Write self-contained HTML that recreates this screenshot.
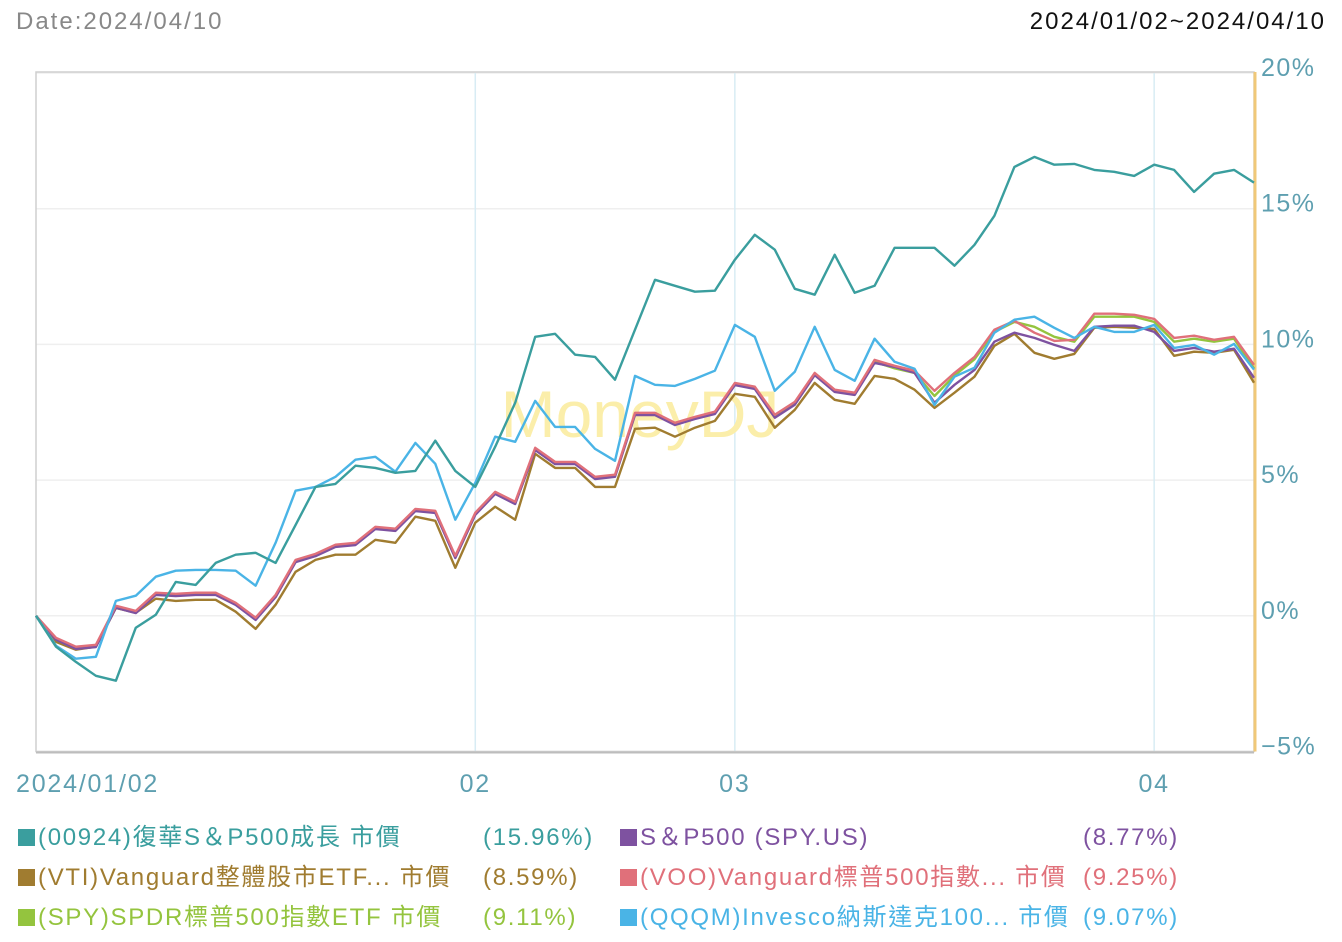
<!DOCTYPE html>
<html><head><meta charset="utf-8"><style>
body{margin:0;width:1342px;height:942px;background:#fff;overflow:hidden;font-family:"Liberation Sans","Noto Sans CJK TC",sans-serif;}
.hdr{position:absolute;top:8px;font-size:24px;letter-spacing:2px;}
.leg{position:absolute;font-size:24px;white-space:nowrap;line-height:28px;letter-spacing:1.7px;}
.sq{display:inline-block;width:17px;height:17px;margin-right:3px;vertical-align:-1px;}
.val{position:absolute;font-size:24px;line-height:28px;letter-spacing:1.7px;}
</style></head><body>
<div class="hdr" style="left:16px;color:#888;">Date:2024/04/10</div>
<div class="hdr" style="right:16px;color:#111;">2024/01/02~2024/04/10</div>
<svg id="chart" width="1342" height="820" style="position:absolute;left:0;top:0"></svg>

<div class="leg" style="left:18px;top:824px;color:#3a9e9e"><span class="sq" style="background:#3a9e9e"></span>(00924)復華S＆P500成長 市價</div>
<div class="val" style="left:483px;top:824px;color:#3a9e9e">(15.96%)</div>
<div class="leg" style="left:18px;top:864px;color:#a07c30"><span class="sq" style="background:#a07c30"></span>(VTI)Vanguard整體股市ETF... 市價</div>
<div class="val" style="left:483px;top:864px;color:#a07c30">(8.59%)</div>
<div class="leg" style="left:18px;top:904px;color:#94c43e"><span class="sq" style="background:#94c43e"></span>(SPY)SPDR標普500指數ETF 市價</div>
<div class="val" style="left:483px;top:904px;color:#94c43e">(9.11%)</div>
<div class="leg" style="left:620px;top:824px;color:#7e52a0"><span class="sq" style="background:#7e52a0"></span>S＆P500 (SPY.US)</div>
<div class="val" style="left:1083px;top:824px;color:#7e52a0">(8.77%)</div>
<div class="leg" style="left:620px;top:864px;color:#e0707a"><span class="sq" style="background:#e0707a"></span>(VOO)Vanguard標普500指數... 市價</div>
<div class="val" style="left:1083px;top:864px;color:#e0707a">(9.25%)</div>
<div class="leg" style="left:620px;top:904px;color:#4ab4e6"><span class="sq" style="background:#4ab4e6"></span>(QQQM)Invesco納斯達克100... 市價</div>
<div class="val" style="left:1083px;top:904px;color:#4ab4e6">(9.07%)</div>

<script>
const yTicks=[-5,0,5,10,15,20];
const xTickLabels=["2024/01/02","02","03","04"];
const xTickIndex=[0,22,35,56];
const nPoints=62;
const teal=[0,-1.14,-1.70,-2.21,-2.39,-0.44,0.04,1.25,1.14,1.95,2.25,2.32,1.95,3.35,4.75,4.86,5.53,5.45,5.27,5.34,6.45,5.34,4.75,6.23,7.85,10.28,10.39,9.62,9.54,8.70,10.54,12.38,12.16,11.94,11.98,13.12,14.04,13.49,12.05,11.83,13.30,11.90,12.16,13.56,13.56,13.56,12.90,13.67,14.74,16.54,16.91,16.62,16.65,16.43,16.36,16.21,16.62,16.43,15.62,16.29,16.43,15.96];
const qqqm=[0,-1.1,-1.58,-1.51,0.55,0.74,1.44,1.66,1.69,1.69,1.66,1.11,2.69,4.61,4.75,5.12,5.75,5.86,5.31,6.37,5.60,3.54,4.90,6.60,6.41,7.92,6.96,6.96,6.15,5.71,8.84,8.51,8.47,8.73,9.03,10.72,10.28,8.29,8.99,10.65,9.06,8.66,10.21,9.36,9.10,7.77,8.81,9.14,10.43,10.91,11.02,10.61,10.24,10.65,10.46,10.46,10.72,9.87,9.98,9.62,10.02,9.07];
const voo=[0,-0.81,-1.14,-1.07,0.37,0.18,0.85,0.81,0.85,0.85,0.48,-0.07,0.77,2.06,2.28,2.62,2.69,3.28,3.21,3.94,3.87,2.21,3.80,4.57,4.20,6.19,5.67,5.67,5.12,5.20,7.48,7.48,7.11,7.33,7.52,8.58,8.44,7.41,7.88,8.95,8.33,8.22,9.43,9.21,9.03,8.29,8.95,9.54,10.54,10.87,10.43,10.13,10.17,11.13,11.13,11.09,10.94,10.24,10.32,10.17,10.28,9.25];
const spy=[0,-0.85,-1.19,-1.12,0.32,0.13,0.80,0.76,0.80,0.80,0.43,-0.12,0.72,2.01,2.23,2.57,2.64,3.23,3.16,3.89,3.82,2.16,3.75,4.52,4.15,6.14,5.62,5.62,5.07,5.15,7.43,7.43,7.06,7.28,7.47,8.53,8.39,7.36,7.80,8.88,8.26,8.15,9.36,9.12,8.95,8.10,8.85,9.45,10.46,10.83,10.65,10.28,10.10,11.02,11.02,11.02,10.83,10.10,10.21,10.10,10.21,9.11];
const sp500=[0,-0.88,-1.22,-1.15,0.30,0.10,0.77,0.73,0.77,0.77,0.40,-0.15,0.69,1.98,2.20,2.54,2.61,3.20,3.13,3.86,3.79,2.13,3.72,4.49,4.12,6.11,5.59,5.59,5.04,5.12,7.40,7.40,7.03,7.25,7.44,8.50,8.36,7.30,7.78,8.87,8.25,8.14,9.32,9.17,8.95,7.85,8.51,9.06,10.10,10.43,10.24,9.98,9.76,10.65,10.69,10.69,10.46,9.76,9.87,9.73,9.84,8.77];
const vti=[0,-0.96,-1.25,-1.14,0.29,0.11,0.63,0.55,0.59,0.59,0.15,-0.48,0.41,1.62,2.06,2.25,2.25,2.80,2.69,3.65,3.50,1.77,3.43,4.02,3.54,5.97,5.45,5.45,4.75,4.75,6.89,6.93,6.60,6.93,7.18,8.18,8.07,6.93,7.59,8.58,7.96,7.81,8.84,8.73,8.33,7.66,8.22,8.81,9.95,10.39,9.69,9.47,9.65,10.61,10.65,10.61,10.57,9.58,9.73,9.69,9.80,8.59];

const NS="http://www.w3.org/2000/svg";
const svg=document.getElementById('chart');
const L=36,R=1254,T=73,B=751.5;
const yMin=-5,yMax=20;
function xs(i){return L+(R-L)*i/(nPoints-1);}
function ys(v){return B-(v-yMin)/(yMax-yMin)*(B-T);}
function mk(tag,attrs){const e=document.createElementNS(NS,tag);for(const k in attrs)e.setAttribute(k,attrs[k]);svg.appendChild(e);return e;}

yTicks.forEach(t=>{
  const g=mk('line',{x1:L,x2:R,y1:ys(t),y2:ys(t),stroke:'#efefef','stroke-width':1.5});
  
  
  const tx=mk('text',{x:1261,y:ys(t)+3,fill:'#5e9fb0','font-size':25,'letter-spacing':1.5,'font-family':'Liberation Sans, sans-serif'});
  tx.textContent=(t<0?'\u2212'+(-t):t)+'%';
  
  
});
xTickIndex.forEach((idx,k)=>{
  if(idx>0){
    const g=mk('line',{x1:xs(idx),x2:xs(idx),y1:T,y2:B,stroke:'#d8ecf4','stroke-width':1.5});
    
    
  }
  const tx=mk('text',{x:k==0?16:xs(idx),y:792,fill:'#5e9fb0','font-size':25,'letter-spacing':1.8,'text-anchor':k==0?'start':'middle','font-family':'Liberation Sans, sans-serif'});
  tx.textContent=xTickLabels[k];
  
  
});
const wm=mk('text',{x:640,y:437,fill:'#fbeeaa','font-size':66,'text-anchor':'middle','font-family':'Liberation Sans, sans-serif'});
wm.textContent='MoneyDJ';


const box=mk('rect',{x:L,y:72,width:R-L,height:B-72,fill:'none',stroke:'#cfcfcf','stroke-width':1.5});


const xa=mk('line',{x1:L,x2:R,y1:B+1,y2:B+1,stroke:'#bdbdbd','stroke-width':2});


const ya=mk('line',{x1:R+1,x2:R+1,y1:72,y2:B,stroke:'#f0c878','stroke-width':3});



const series=[[vti,'#a07c30','line-vti'],[spy,'#94c43e','line-spy'],[sp500,'#7e52a0','line-sp500'],[voo,'#e0707a','line-voo'],[qqqm,'#4ab4e6','line-qqqm'],[teal,'#3a9e9e','line-00924']];
series.forEach(s=>{
  const d=s[0].map((v,i)=>(i?'L':'M')+xs(i).toFixed(1)+' '+ys(v).toFixed(1)).join(' ');
  const p=mk('path',{d:d,fill:'none',stroke:s[1],'stroke-width':2.4,'stroke-linejoin':'round'});
  
  
});
</script>
</body></html>
